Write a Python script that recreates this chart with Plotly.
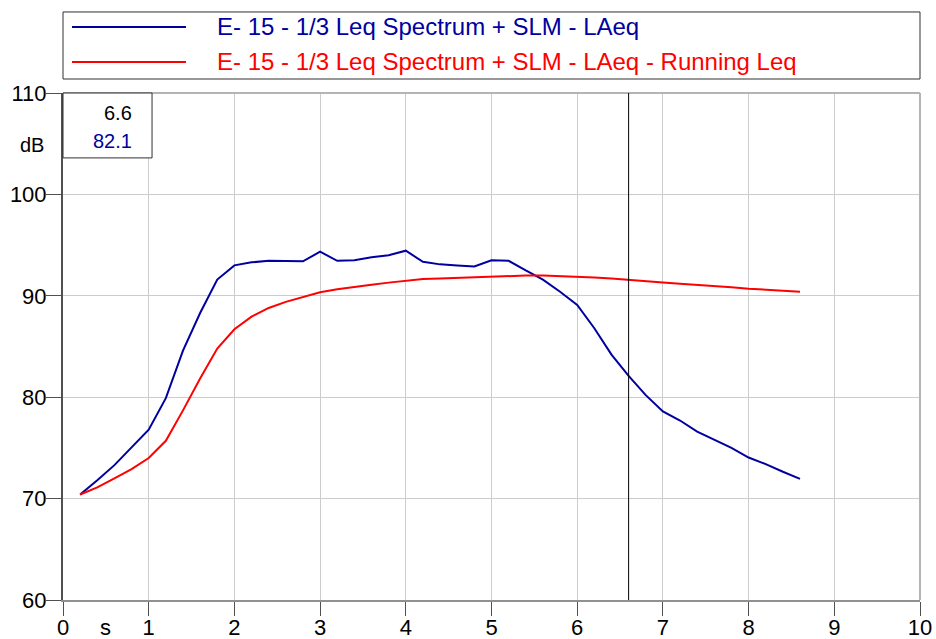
import plotly.graph_objects as go

time_s = [0.2, 0.4, 0.6, 0.8, 1.0, 1.2, 1.4, 1.6, 1.8, 2.0, 2.2, 2.4, 2.6, 2.8, 3.0,
          3.2, 3.4, 3.6, 3.8, 4.0, 4.2, 4.4, 4.6, 4.8, 5.0, 5.2, 5.4, 5.6, 5.8, 6.0,
          6.2, 6.4, 6.6, 6.8, 7.0, 7.2, 7.4, 7.6, 7.8, 8.0, 8.2, 8.4, 8.6]
laeq = [70.4, 71.8, 73.3, 75.0, 76.8, 79.9, 84.6, 88.3, 91.6, 93.0, 93.3, 93.45, 93.4, 93.4, 94.35,
        93.45, 93.5, 93.8, 94.0, 94.45, 93.35, 93.1, 93.0, 92.9, 93.5, 93.45, 92.5, 91.6, 90.4, 89.1,
        86.8, 84.2, 82.1, 80.2, 78.6, 77.7, 76.6, 75.8, 75.0, 74.05, 73.4, 72.65, 71.95]
running_leq = [70.4, 71.1, 72.0, 72.9, 74.0, 75.7, 78.7, 81.85, 84.8, 86.7, 87.95, 88.8, 89.4, 89.85, 90.35,
               90.65, 90.9, 91.1, 91.3, 91.5, 91.65, 91.7, 91.77, 91.85, 91.9, 91.97, 92.0, 92.0, 91.95, 91.9,
               91.8, 91.7, 91.55, 91.4, 91.3, 91.2, 91.1, 90.95, 90.85, 90.7, 90.6, 90.5, 90.4]
series_names = ["E- 15 - 1/3 Leq Spectrum + SLM - LAeq",
                "E- 15 - 1/3 Leq Spectrum + SLM - LAeq - Running Leq"]
x_ticks = [0, 1, 2, 3, 4, 5, 6, 7, 8, 9, 10]
y_ticks = [60, 70, 80, 90, 100, 110]
cursor_x = 6.6
cursor_y = 82.1

BLUE = "#0000a0"
RED = "#ff0000"
FONT = "Liberation Sans, Arial, sans-serif"

fig = go.Figure()
fig.add_trace(go.Scatter(x=time_s, y=laeq, mode="lines", line=dict(color=BLUE, width=2),
                         name=series_names[0], showlegend=False))
fig.add_trace(go.Scatter(x=time_s, y=running_leq, mode="lines", line=dict(color=RED, width=2),
                         name=series_names[1], showlegend=False))

axis_common = dict(showgrid=True, gridcolor="#cccccc", gridwidth=1, zeroline=False,
                   mirror=False, automargin=False, ticks="outside", tickcolor="#505050",
                   tickfont=dict(family=FONT, size=22, color="#000000"))

fig.update_xaxes(range=[0, 10], tickvals=x_ticks, ticklen=14, showline=True,
                 linecolor="#909090", linewidth=2, ticklabelstandoff=-7, **axis_common)
fig.update_yaxes(range=[60, 110], tickvals=y_ticks, ticklen=15, showline=True,
                 linecolor="#505050", linewidth=2, ticklabelstandoff=-5, **axis_common)

# top and right plot borders
fig.add_shape(type="line", xref="paper", yref="paper", x0=0, x1=1, y0=1, y1=1,
              line=dict(color="#b4b4b4", width=2))
fig.add_shape(type="line", xref="paper", yref="paper", x0=1, x1=1, y0=0, y1=1,
              line=dict(color="#b4b4b4", width=2))

# cursor line
fig.add_shape(type="line", xref="x", yref="paper", x0=cursor_x, x1=cursor_x, y0=0, y1=1,
              line=dict(color="#000000", width=1))

shapes = [
    # legend box
    dict(type="rect", xref="paper", yref="paper", x0=0, x1=1, y0=1.0276, y1=1.1598,
         line=dict(color="#303030", width=1), fillcolor="white"),
    dict(type="line", xref="paper", yref="paper", x0=0.0105, x1=0.1435, y0=1.130, y1=1.130,
         line=dict(color=BLUE, width=2)),
    dict(type="line", xref="paper", yref="paper", x0=0.0105, x1=0.1435, y0=1.061, y1=1.061,
         line=dict(color=RED, width=2)),
    # readout box
    dict(type="rect", xref="paper", yref="paper", x0=0, x1=0.1039, y0=0.872, y1=1.0,
         line=dict(color="#303030", width=1), fillcolor="white"),
]
for s in shapes:
    fig.add_shape(**s)

ann = [
    dict(x=0.177, y=1.132, text=series_names[0], color=BLUE, xanchor="left", size=24),
    dict(x=0.177, y=1.063, text=series_names[1], color=RED, xanchor="left", size=24),
    dict(x=0.0825, y=0.960, text=f"{cursor_x:.1f}", color="#000000", xanchor="right", size=20),
    dict(x=0.0825, y=0.905, text=f"{cursor_y:.1f}", color=BLUE, xanchor="right", size=20),
    dict(x=-0.036, y=0.897, text="dB", color="#000000", xanchor="center", size=20),
    dict(x=0.050, y=-0.0545, text="s", color="#000000", xanchor="center", size=22),
]
for a in ann:
    fig.add_annotation(x=a["x"], y=a["y"], xref="paper", yref="paper", text=a["text"],
                       showarrow=False, xanchor=a["xanchor"], yanchor="middle",
                       font=dict(family=FONT, size=a["size"], color=a["color"]))

fig.update_layout(width=936, height=639, margin=dict(l=63, r=16, t=93, b=39),
                  plot_bgcolor="white", paper_bgcolor="white", showlegend=False)

fig.write_html("out.html", config={"displayModeBar": False},
               post_script="document.body.style.margin='0px';document.body.style.padding='0px';")
